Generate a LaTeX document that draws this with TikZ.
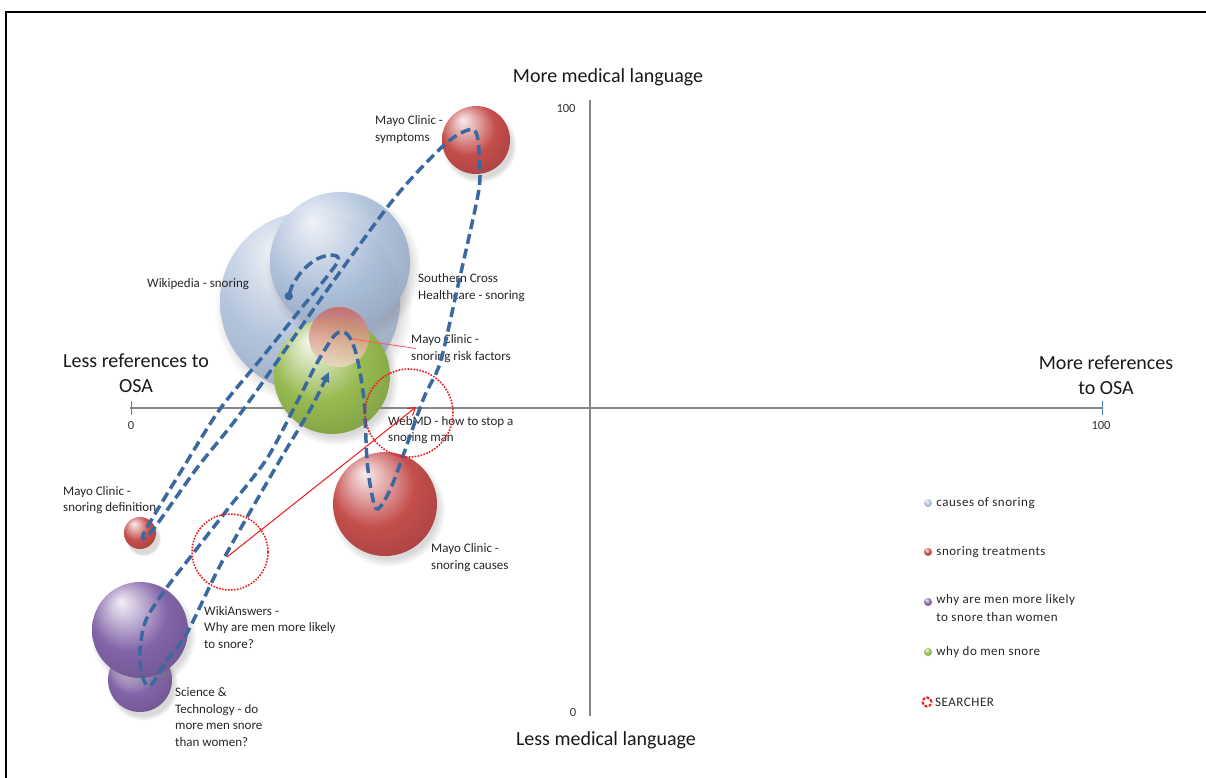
\documentclass[tikz,border=0pt]{standalone}
\usepackage{fontspec}
\setmainfont{Carlito}
\usetikzlibrary{positioning,arrows.meta,shadows}

\definecolor{osaBlue}{RGB}{172,192,220}
\definecolor{osaRed}{RGB}{196,78,76}
\definecolor{osaGreen}{RGB}{150,186,80}
\definecolor{osaPurple}{RGB}{130,100,168}
\definecolor{riskCream}{RGB}{238,220,196}
\definecolor{routeBlue}{RGB}{58,104,160}
\definecolor{axisGray}{RGB}{134,134,134}
\definecolor{tickBlue}{RGB}{79,129,189}
\definecolor{searchRed}{RGB}{238,24,24}
\colorlet{bubcol}{osaRed}

\pgfdeclareradialshading[bubcol]{bubble}{\pgfpoint{-10bp}{15bp}}{%
  color(0bp)=(bubcol!10!white); color(8bp)=(bubcol!45!white);
  color(20bp)=(bubcol); color(32bp)=(bubcol!88!black);
  color(42bp)=(bubcol!68!black); color(50bp)=(bubcol!45!black)}

\tikzset{
  bubble color/.code={\colorlet{bubcol}{#1}},
  bubble/.style={circle, inner sep=0pt, shade, shading=bubble, minimum size=#1,
    circular drop shadow={shadow xshift=3pt, shadow yshift=-5pt, opacity=.3}},
  legball/.style={circle, inner sep=0pt, shade, shading=bubble, minimum size=8pt},
  lbl/.style={inner sep=0pt, align=left, anchor=west, text=black!85,
    font=\fontsize{13}{16.5}\selectfont},
  axtitle/.style={inner sep=0pt, align=center, text=black!90,
    font=\fontsize{20}{25}\selectfont},
  ticklbl/.style={inner sep=0pt, text=black!80, font=\fontsize{12.5}{15}\selectfont},
  legtxt/.style={inner sep=0pt, align=left, text=black!85,
    font=\fontsize{13}{18}\selectfont\addfontfeature{LetterSpace=4}},
  axisline/.style={draw=axisGray, line width=2.5pt},
  route/.style={draw=routeBlue, line width=3.5pt, dash pattern=on 10pt off 5pt,
    {Circle[length=8pt]}-{Triangle[length=10pt,width=9pt]}},
  searcher/.style={circle, draw=searchRed, line width=1.6pt, inner sep=0pt,
    dash pattern=on 1.6pt off 1.4pt, minimum size=#1},
  leader/.style={draw=red!65, line width=.8pt}
}

\begin{document}
\begin{tikzpicture}[x=1pt,y=-1pt]
\useasboundingbox (0,0) rectangle (1206,778);
\draw[line width=2pt] (6,778) -- (6,12) -- (1206,12);

% axes
\draw[axisline] (130,408) -- (1102,408);
\draw[axisline] (590,100) -- (590,716);
\draw[tickBlue, line width=1pt] (131,401) -- (131,415);
\draw[tickBlue, line width=1pt] (1102,401) -- (1102,415);
\node[ticklbl] (yMax) at (566,108) {100};
\node[ticklbl] (yMin) at (573,712) {0};
\node[ticklbl] (xMin) at (131,425) {0};
\node[ticklbl] (xMax) at (1101,425) {100};
\node[axtitle] (moreMed) at (608,77) {More medical language};
\node[axtitle] (lessMed) at (606,740) {Less medical language};
\node[axtitle] (lessRef) at (136,373) {Less references to\\OSA};
\node[axtitle] (moreRef) at (1106,375) {More references\\to OSA};

% bubbles
\node[bubble=180pt, bubble color=osaBlue, opacity=.85] (wiki) at (310,302) {};
\node[bubble=140pt, bubble color=osaBlue, opacity=.9] (south) at (340,262) {};
\node[bubble=116pt, bubble color=osaGreen] (webmd) at (332,376) {};
\node[circle, inner sep=0pt, minimum size=60pt, top color=osaRed!90!white, bottom color=riskCream, opacity=.8] (risk) at (339,337) {};
\node[bubble=104pt, bubble color=osaRed] (causes) at (385,504) {};
\node[bubble=68pt, bubble color=osaRed] (symptoms) at (476,140) {};
\node[bubble=32pt, bubble color=osaRed] (definition) at (140,533) {};
\node[bubble=64pt, bubble color=osaPurple] (sciTech) at (140,680) {};
\node[bubble=96pt, bubble color=osaPurple] (wikiAns) at (140,630) {};

% labels
\node[lbl] (symLbl) at (375,129.5) {Mayo Clinic -\\symptoms};
\node[lbl] (wikiLbl) at (147,284) {Wikipedia - snoring};
\node[lbl] (southLbl) at (418,287.5) {Southern Cross\\Healthcare - snoring};
\node[lbl] (riskLbl) at (411,348.5) {Mayo Clinic -\\snoring risk factors};
\node[lbl] (webLbl) at (388,430) {WebMD - how to stop a\\snoring man};
\node[lbl] (defLbl) at (63,500) {Mayo Clinic -\\snoring definition};
\node[lbl] (causeLbl) at (431,557.5) {Mayo Clinic -\\snoring causes};
\node[lbl] (ansLbl) at (204,627.5) {WikiAnswers -\\Why are men more likely\\to snore?};
\node[lbl] (sciLbl) at (175,717) {Science \&\\Technology - do\\more men snore\\than women?};
\draw[leader, shorten <=10pt] (risk.center) -- ([xshift=5pt]riskLbl.west);

% search route
\coordinate (start) at (288,300);
\coordinate (wikiTurn) at (332,255);
\coordinate (defTurn) at (144,533);
\coordinate (symTurn) at (468,130);
\coordinate (causeTurn) at (378,509);
\coordinate (riskTurn) at (343,332);
\coordinate (ansTurn) at (150,686);
\coordinate (finish) at (329,372);
\draw[route] plot[smooth, tension=.5] coordinates {(start) (292,286) (303,270)
  (317,259) (wikiTurn) (337,263) (300,310) (260,360) (220,409) (183,468)
  (defTurn) (152,531) (197,468) (243,410) (320,300) (393,200) (443,146)
  (symTurn) (477,135) (480,172) (477,200) (457,290) (440,363) (423,400)
  (393,483) (causeTurn) (372,495) (367,460) (364,400) (357,357) (350,338)
  (riskTurn) (334,336) (317,363) (293,410) (266,460) (227,510) (188,560)
  (165,590) (146,620) (140,650) (142,675) (ansTurn) (167,660) (187,633)
  (223,560) (280,460) (310,410) (finish)};

% searcher
\node[searcher=88pt] (searchHigh) at (409,413) {};
\node[searcher=76pt] (searchLow) at (230,552) {};
\coordinate (searchTip) at (416,407);
\draw[searchRed, line width=1pt, -{Straight Barb[length=7pt,width=9pt]}] (searchLow.center) ++(-3,5) -- (searchTip);

% legend
\node[legball, bubble color=osaBlue] (legCauses) at (928,503) {};
\node[legtxt, right=4pt of legCauses] (legCausesTxt) {causes of snoring};
\node[legball, bubble color=osaRed] (legTreat) at (928,552) {};
\node[legtxt, right=4pt of legTreat] (legTreatTxt) {snoring treatments};
\node[legball, bubble color=osaPurple] (legMen) at (928,602) {};
\node[legtxt, anchor=north west] (legMenTxt) at ([xshift=4pt,yshift=8pt]legMen.east) {why are men more likely\\to snore than women};
\node[legball, bubble color=osaGreen] (legSnore) at (928,652) {};
\node[legtxt, right=4pt of legSnore] (legSnoreTxt) {why do men snore};
\node[circle, draw=searchRed, line width=2pt, dash pattern=on 3pt off 1.5pt, inner sep=0pt, minimum size=9pt] (legSearch) at (927,702) {};
\node[legtxt, right=2.5pt of legSearch] (legSearchTxt) {SEARCHER};
\end{tikzpicture}
\end{document}
